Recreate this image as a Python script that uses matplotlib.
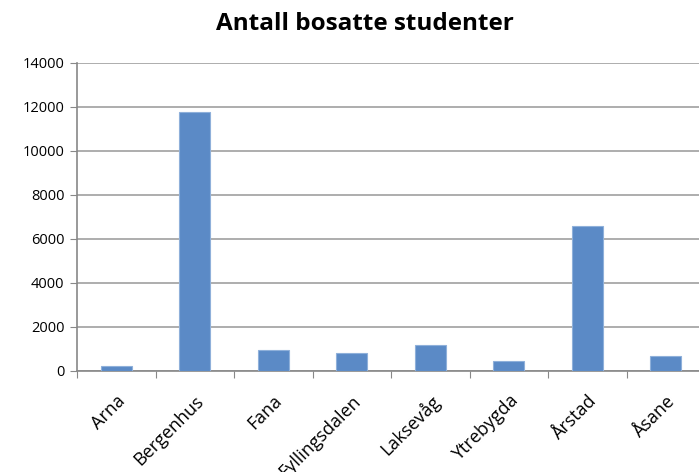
import matplotlib.pyplot as plt
import numpy as np

categories = ["Arna", "Bergenhus", "Fana", "Fyllingsdalen", "Laksevåg",
              "Ytrebygda", "Årstad", "Åsane"]
values = [220, 11760, 940, 820, 1180, 450, 6580, 700]
y_ticks = [0, 2000, 4000, 6000, 8000, 10000, 12000, 14000]

plt.rcParams['font.family'] = ['Open Sans', 'DejaVu Sans']

fig = plt.figure(figsize=(6.99, 4.72), dpi=100)
ax = fig.add_axes([77 / 699, 101 / 472, 628 / 699, 308 / 472])

x = np.arange(len(categories))
ax.bar(x, values, width=0.4, color="#5b8ac6", edgecolor="#8fb0da",
       linewidth=0.8, zorder=3)

ax.set_xlim(-0.5, len(categories) - 0.5)
ax.set_ylim(0, 14000)
ax.set_yticks(y_ticks)
ax.set_yticklabels([str(v) for v in y_ticks], fontsize=10.5)
ax.yaxis.grid(True, color="#a0a0a0", linewidth=1.2, zorder=0)

# ticks between categories, labels at bar centres
ax.set_xticks(np.arange(len(categories) + 1) - 0.5)
ax.set_xticklabels([])
ax.set_xticks(x, minor=True)
ax.set_xticklabels(categories, minor=True, rotation=45, ha="right",
                   rotation_mode="anchor", fontsize=13)
ax.tick_params(axis="x", which="minor", length=0, pad=15)
ax.tick_params(axis="x", which="major", length=5, color="#888888")
ax.tick_params(axis="y", length=5, color="#888888", pad=4)

for s in ["top", "right"]:
    ax.spines[s].set_visible(False)
ax.spines["left"].set_color("#888888")
ax.spines["bottom"].set_color("#888888")
ax.spines["left"].set_linewidth(1.2)
ax.spines["bottom"].set_linewidth(1.2)

fig.text(0.522, 0.95, "Antall bosatte studenter", ha="center", va="center",
         fontsize=17.5, fontweight="bold")

fig.savefig("out.png", dpi=100)
